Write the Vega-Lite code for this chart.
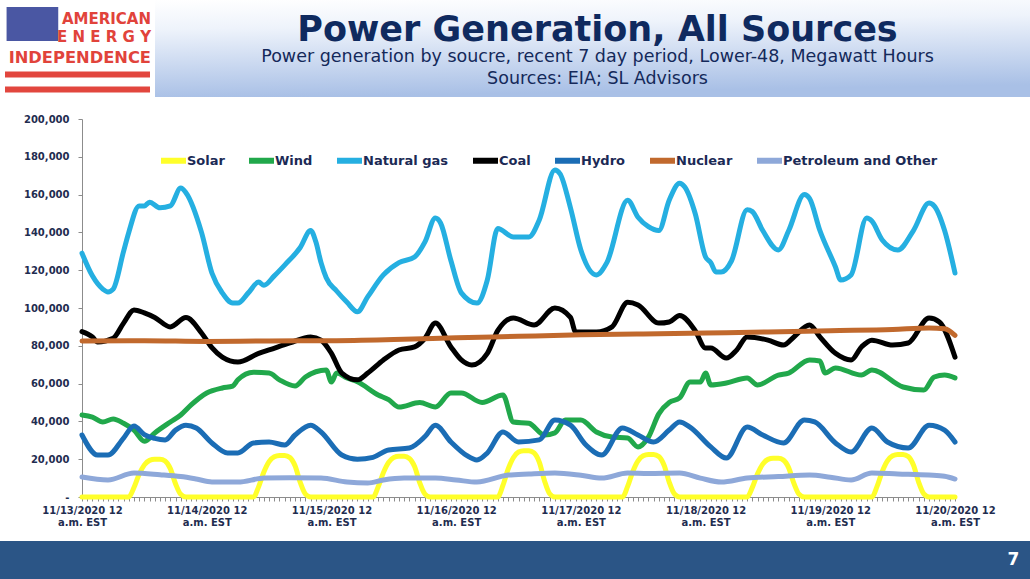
{
  "$schema": "https://vega.github.io/schema/vega-lite/v6.json",
  "background": "white",
  "padding": 0,
  "spacing": 0,
  "config": {
    "font": "DejaVu Sans",
    "view": {"stroke": null},
    "concat": {"spacing": 0}
  },
  "datasets": {
    "generation": [
      {"time": "2020-11-13T00:00", "source": "Solar", "mwh": 0},
      {"time": "2020-11-13T09:00", "source": "Solar", "mwh": 0},
      {"time": "2020-11-13T10:00", "source": "Solar", "mwh": 5000},
      {"time": "2020-11-13T11:00", "source": "Solar", "mwh": 12000},
      {"time": "2020-11-13T12:00", "source": "Solar", "mwh": 17000},
      {"time": "2020-11-13T13:00", "source": "Solar", "mwh": 19400},
      {"time": "2020-11-13T14:00", "source": "Solar", "mwh": 20000},
      {"time": "2020-11-13T15:00", "source": "Solar", "mwh": 20000},
      {"time": "2020-11-13T16:00", "source": "Solar", "mwh": 19000},
      {"time": "2020-11-13T17:00", "source": "Solar", "mwh": 15000},
      {"time": "2020-11-13T18:00", "source": "Solar", "mwh": 7000},
      {"time": "2020-11-13T19:00", "source": "Solar", "mwh": 1400},
      {"time": "2020-11-13T20:00", "source": "Solar", "mwh": 0},
      {"time": "2020-11-14T09:00", "source": "Solar", "mwh": 0},
      {"time": "2020-11-14T10:00", "source": "Solar", "mwh": 5500},
      {"time": "2020-11-14T11:00", "source": "Solar", "mwh": 13200},
      {"time": "2020-11-14T12:00", "source": "Solar", "mwh": 18700},
      {"time": "2020-11-14T13:00", "source": "Solar", "mwh": 21300},
      {"time": "2020-11-14T14:00", "source": "Solar", "mwh": 22000},
      {"time": "2020-11-14T15:00", "source": "Solar", "mwh": 22000},
      {"time": "2020-11-14T16:00", "source": "Solar", "mwh": 20900},
      {"time": "2020-11-14T17:00", "source": "Solar", "mwh": 16500},
      {"time": "2020-11-14T18:00", "source": "Solar", "mwh": 7700},
      {"time": "2020-11-14T19:00", "source": "Solar", "mwh": 1500},
      {"time": "2020-11-14T20:00", "source": "Solar", "mwh": 0},
      {"time": "2020-11-15T08:00", "source": "Solar", "mwh": 0},
      {"time": "2020-11-15T09:00", "source": "Solar", "mwh": 5400},
      {"time": "2020-11-15T10:00", "source": "Solar", "mwh": 12900},
      {"time": "2020-11-15T11:00", "source": "Solar", "mwh": 18300},
      {"time": "2020-11-15T12:00", "source": "Solar", "mwh": 20900},
      {"time": "2020-11-15T13:00", "source": "Solar", "mwh": 21500},
      {"time": "2020-11-15T14:00", "source": "Solar", "mwh": 21500},
      {"time": "2020-11-15T15:00", "source": "Solar", "mwh": 20400},
      {"time": "2020-11-15T16:00", "source": "Solar", "mwh": 16100},
      {"time": "2020-11-15T17:00", "source": "Solar", "mwh": 7500},
      {"time": "2020-11-15T18:00", "source": "Solar", "mwh": 1500},
      {"time": "2020-11-15T19:00", "source": "Solar", "mwh": 0},
      {"time": "2020-11-16T08:00", "source": "Solar", "mwh": 0},
      {"time": "2020-11-16T09:00", "source": "Solar", "mwh": 6100},
      {"time": "2020-11-16T10:00", "source": "Solar", "mwh": 14700},
      {"time": "2020-11-16T11:00", "source": "Solar", "mwh": 20800},
      {"time": "2020-11-16T12:00", "source": "Solar", "mwh": 23800},
      {"time": "2020-11-16T13:00", "source": "Solar", "mwh": 24500},
      {"time": "2020-11-16T14:00", "source": "Solar", "mwh": 24500},
      {"time": "2020-11-16T15:00", "source": "Solar", "mwh": 23300},
      {"time": "2020-11-16T16:00", "source": "Solar", "mwh": 18400},
      {"time": "2020-11-16T17:00", "source": "Solar", "mwh": 8600},
      {"time": "2020-11-16T18:00", "source": "Solar", "mwh": 1700},
      {"time": "2020-11-16T19:00", "source": "Solar", "mwh": 0},
      {"time": "2020-11-17T08:00", "source": "Solar", "mwh": 0},
      {"time": "2020-11-17T09:00", "source": "Solar", "mwh": 5600},
      {"time": "2020-11-17T10:00", "source": "Solar", "mwh": 13500},
      {"time": "2020-11-17T11:00", "source": "Solar", "mwh": 19100},
      {"time": "2020-11-17T12:00", "source": "Solar", "mwh": 21800},
      {"time": "2020-11-17T13:00", "source": "Solar", "mwh": 22500},
      {"time": "2020-11-17T14:00", "source": "Solar", "mwh": 22500},
      {"time": "2020-11-17T15:00", "source": "Solar", "mwh": 21400},
      {"time": "2020-11-17T16:00", "source": "Solar", "mwh": 16900},
      {"time": "2020-11-17T17:00", "source": "Solar", "mwh": 7900},
      {"time": "2020-11-17T18:00", "source": "Solar", "mwh": 1600},
      {"time": "2020-11-17T19:00", "source": "Solar", "mwh": 0},
      {"time": "2020-11-18T08:00", "source": "Solar", "mwh": 0},
      {"time": "2020-11-18T09:00", "source": "Solar", "mwh": 5100},
      {"time": "2020-11-18T10:00", "source": "Solar", "mwh": 12300},
      {"time": "2020-11-18T11:00", "source": "Solar", "mwh": 17400},
      {"time": "2020-11-18T12:00", "source": "Solar", "mwh": 19900},
      {"time": "2020-11-18T13:00", "source": "Solar", "mwh": 20500},
      {"time": "2020-11-18T14:00", "source": "Solar", "mwh": 20500},
      {"time": "2020-11-18T15:00", "source": "Solar", "mwh": 19500},
      {"time": "2020-11-18T16:00", "source": "Solar", "mwh": 15400},
      {"time": "2020-11-18T17:00", "source": "Solar", "mwh": 7200},
      {"time": "2020-11-18T18:00", "source": "Solar", "mwh": 1400},
      {"time": "2020-11-18T19:00", "source": "Solar", "mwh": 0},
      {"time": "2020-11-19T08:00", "source": "Solar", "mwh": 0},
      {"time": "2020-11-19T09:00", "source": "Solar", "mwh": 5600},
      {"time": "2020-11-19T10:00", "source": "Solar", "mwh": 13500},
      {"time": "2020-11-19T11:00", "source": "Solar", "mwh": 19100},
      {"time": "2020-11-19T12:00", "source": "Solar", "mwh": 21800},
      {"time": "2020-11-19T13:00", "source": "Solar", "mwh": 22500},
      {"time": "2020-11-19T14:00", "source": "Solar", "mwh": 22500},
      {"time": "2020-11-19T15:00", "source": "Solar", "mwh": 21400},
      {"time": "2020-11-19T16:00", "source": "Solar", "mwh": 16900},
      {"time": "2020-11-19T17:00", "source": "Solar", "mwh": 7900},
      {"time": "2020-11-19T18:00", "source": "Solar", "mwh": 1600},
      {"time": "2020-11-19T19:00", "source": "Solar", "mwh": 0},
      {"time": "2020-11-20T00:00", "source": "Solar", "mwh": 0},
      {"time": "2020-11-13T00:00", "source": "Wind", "mwh": 43400},
      {"time": "2020-11-13T02:00", "source": "Wind", "mwh": 42300},
      {"time": "2020-11-13T04:00", "source": "Wind", "mwh": 39700},
      {"time": "2020-11-13T06:00", "source": "Wind", "mwh": 41300},
      {"time": "2020-11-13T08:00", "source": "Wind", "mwh": 39000},
      {"time": "2020-11-13T10:00", "source": "Wind", "mwh": 35400},
      {"time": "2020-11-13T12:00", "source": "Wind", "mwh": 29500},
      {"time": "2020-11-13T14:00", "source": "Wind", "mwh": 33900},
      {"time": "2020-11-13T17:00", "source": "Wind", "mwh": 39700},
      {"time": "2020-11-13T19:00", "source": "Wind", "mwh": 43400},
      {"time": "2020-11-13T21:00", "source": "Wind", "mwh": 48700},
      {"time": "2020-11-14T00:00", "source": "Wind", "mwh": 55000},
      {"time": "2020-11-14T03:00", "source": "Wind", "mwh": 57700},
      {"time": "2020-11-14T05:00", "source": "Wind", "mwh": 58700},
      {"time": "2020-11-14T06:00", "source": "Wind", "mwh": 62000},
      {"time": "2020-11-14T09:00", "source": "Wind", "mwh": 66000},
      {"time": "2020-11-14T12:00", "source": "Wind", "mwh": 65600},
      {"time": "2020-11-14T14:00", "source": "Wind", "mwh": 62000},
      {"time": "2020-11-14T17:00", "source": "Wind", "mwh": 58700},
      {"time": "2020-11-14T19:00", "source": "Wind", "mwh": 63500},
      {"time": "2020-11-14T23:00", "source": "Wind", "mwh": 67200},
      {"time": "2020-11-15T00:00", "source": "Wind", "mwh": 60800},
      {"time": "2020-11-15T01:00", "source": "Wind", "mwh": 65600},
      {"time": "2020-11-15T03:00", "source": "Wind", "mwh": 63000},
      {"time": "2020-11-15T05:00", "source": "Wind", "mwh": 61000},
      {"time": "2020-11-15T09:00", "source": "Wind", "mwh": 54000},
      {"time": "2020-11-15T11:00", "source": "Wind", "mwh": 51500},
      {"time": "2020-11-15T13:00", "source": "Wind", "mwh": 47600},
      {"time": "2020-11-15T17:00", "source": "Wind", "mwh": 50000},
      {"time": "2020-11-15T20:00", "source": "Wind", "mwh": 47600},
      {"time": "2020-11-15T23:00", "source": "Wind", "mwh": 55000},
      {"time": "2020-11-16T01:00", "source": "Wind", "mwh": 55000},
      {"time": "2020-11-16T05:00", "source": "Wind", "mwh": 50000},
      {"time": "2020-11-16T09:00", "source": "Wind", "mwh": 54000},
      {"time": "2020-11-16T11:00", "source": "Wind", "mwh": 39700},
      {"time": "2020-11-16T14:00", "source": "Wind", "mwh": 39000},
      {"time": "2020-11-16T17:00", "source": "Wind", "mwh": 32800},
      {"time": "2020-11-16T19:00", "source": "Wind", "mwh": 33900},
      {"time": "2020-11-16T21:00", "source": "Wind", "mwh": 40700},
      {"time": "2020-11-17T00:00", "source": "Wind", "mwh": 40700},
      {"time": "2020-11-17T03:00", "source": "Wind", "mwh": 34400},
      {"time": "2020-11-17T06:00", "source": "Wind", "mwh": 31700},
      {"time": "2020-11-17T09:00", "source": "Wind", "mwh": 31200},
      {"time": "2020-11-17T11:00", "source": "Wind", "mwh": 26500},
      {"time": "2020-11-17T13:00", "source": "Wind", "mwh": 31700},
      {"time": "2020-11-17T15:00", "source": "Wind", "mwh": 44000},
      {"time": "2020-11-17T17:00", "source": "Wind", "mwh": 50000},
      {"time": "2020-11-17T19:00", "source": "Wind", "mwh": 52400},
      {"time": "2020-11-17T21:00", "source": "Wind", "mwh": 60800},
      {"time": "2020-11-17T23:00", "source": "Wind", "mwh": 60800},
      {"time": "2020-11-18T00:00", "source": "Wind", "mwh": 65600},
      {"time": "2020-11-18T01:00", "source": "Wind", "mwh": 59300},
      {"time": "2020-11-18T04:00", "source": "Wind", "mwh": 60300},
      {"time": "2020-11-18T08:00", "source": "Wind", "mwh": 63000},
      {"time": "2020-11-18T10:00", "source": "Wind", "mwh": 59300},
      {"time": "2020-11-18T14:00", "source": "Wind", "mwh": 64500},
      {"time": "2020-11-18T16:00", "source": "Wind", "mwh": 65600},
      {"time": "2020-11-18T20:00", "source": "Wind", "mwh": 72500},
      {"time": "2020-11-18T22:00", "source": "Wind", "mwh": 72000},
      {"time": "2020-11-18T23:00", "source": "Wind", "mwh": 65600},
      {"time": "2020-11-19T01:00", "source": "Wind", "mwh": 68300},
      {"time": "2020-11-19T06:00", "source": "Wind", "mwh": 64500},
      {"time": "2020-11-19T08:00", "source": "Wind", "mwh": 67200},
      {"time": "2020-11-19T14:00", "source": "Wind", "mwh": 58200},
      {"time": "2020-11-19T18:00", "source": "Wind", "mwh": 56600},
      {"time": "2020-11-19T20:00", "source": "Wind", "mwh": 63500},
      {"time": "2020-11-19T22:00", "source": "Wind", "mwh": 64500},
      {"time": "2020-11-20T00:00", "source": "Wind", "mwh": 63000},
      {"time": "2020-11-13T00:00", "source": "Natural gas", "mwh": 129000},
      {"time": "2020-11-13T02:00", "source": "Natural gas", "mwh": 117000},
      {"time": "2020-11-13T04:00", "source": "Natural gas", "mwh": 110000},
      {"time": "2020-11-13T05:00", "source": "Natural gas", "mwh": 108500},
      {"time": "2020-11-13T06:00", "source": "Natural gas", "mwh": 110000},
      {"time": "2020-11-13T08:00", "source": "Natural gas", "mwh": 130000},
      {"time": "2020-11-13T09:00", "source": "Natural gas", "mwh": 140000},
      {"time": "2020-11-13T11:00", "source": "Natural gas", "mwh": 154000},
      {"time": "2020-11-13T12:00", "source": "Natural gas", "mwh": 154000},
      {"time": "2020-11-13T13:00", "source": "Natural gas", "mwh": 156000},
      {"time": "2020-11-13T15:00", "source": "Natural gas", "mwh": 153000},
      {"time": "2020-11-13T17:00", "source": "Natural gas", "mwh": 154000},
      {"time": "2020-11-13T19:00", "source": "Natural gas", "mwh": 163500},
      {"time": "2020-11-13T20:00", "source": "Natural gas", "mwh": 161000},
      {"time": "2020-11-13T23:00", "source": "Natural gas", "mwh": 140000},
      {"time": "2020-11-14T01:00", "source": "Natural gas", "mwh": 118500},
      {"time": "2020-11-14T03:00", "source": "Natural gas", "mwh": 108000},
      {"time": "2020-11-14T05:00", "source": "Natural gas", "mwh": 102600},
      {"time": "2020-11-14T06:00", "source": "Natural gas", "mwh": 102600},
      {"time": "2020-11-14T08:00", "source": "Natural gas", "mwh": 108000},
      {"time": "2020-11-14T10:00", "source": "Natural gas", "mwh": 113700},
      {"time": "2020-11-14T11:00", "source": "Natural gas", "mwh": 112000},
      {"time": "2020-11-14T13:00", "source": "Natural gas", "mwh": 117000},
      {"time": "2020-11-14T15:00", "source": "Natural gas", "mwh": 122700},
      {"time": "2020-11-14T18:00", "source": "Natural gas", "mwh": 132000},
      {"time": "2020-11-14T20:00", "source": "Natural gas", "mwh": 141000},
      {"time": "2020-11-14T21:00", "source": "Natural gas", "mwh": 135000},
      {"time": "2020-11-14T22:00", "source": "Natural gas", "mwh": 124000},
      {"time": "2020-11-14T23:00", "source": "Natural gas", "mwh": 116000},
      {"time": "2020-11-15T01:00", "source": "Natural gas", "mwh": 109000},
      {"time": "2020-11-15T03:00", "source": "Natural gas", "mwh": 103000},
      {"time": "2020-11-15T05:00", "source": "Natural gas", "mwh": 98000},
      {"time": "2020-11-15T07:00", "source": "Natural gas", "mwh": 106000},
      {"time": "2020-11-15T10:00", "source": "Natural gas", "mwh": 117500},
      {"time": "2020-11-15T13:00", "source": "Natural gas", "mwh": 124000},
      {"time": "2020-11-15T16:00", "source": "Natural gas", "mwh": 127000},
      {"time": "2020-11-15T18:00", "source": "Natural gas", "mwh": 135000},
      {"time": "2020-11-15T20:00", "source": "Natural gas", "mwh": 147600},
      {"time": "2020-11-15T21:00", "source": "Natural gas", "mwh": 145000},
      {"time": "2020-11-15T23:00", "source": "Natural gas", "mwh": 125000},
      {"time": "2020-11-16T01:00", "source": "Natural gas", "mwh": 108000},
      {"time": "2020-11-16T04:00", "source": "Natural gas", "mwh": 102600},
      {"time": "2020-11-16T06:00", "source": "Natural gas", "mwh": 114800},
      {"time": "2020-11-16T08:00", "source": "Natural gas", "mwh": 142000},
      {"time": "2020-11-16T11:00", "source": "Natural gas", "mwh": 137600},
      {"time": "2020-11-16T14:00", "source": "Natural gas", "mwh": 137600},
      {"time": "2020-11-16T16:00", "source": "Natural gas", "mwh": 146600},
      {"time": "2020-11-16T19:00", "source": "Natural gas", "mwh": 173000},
      {"time": "2020-11-16T20:00", "source": "Natural gas", "mwh": 171000},
      {"time": "2020-11-16T22:00", "source": "Natural gas", "mwh": 153000},
      {"time": "2020-11-17T00:00", "source": "Natural gas", "mwh": 130700},
      {"time": "2020-11-17T03:00", "source": "Natural gas", "mwh": 117500},
      {"time": "2020-11-17T05:00", "source": "Natural gas", "mwh": 124000},
      {"time": "2020-11-17T09:00", "source": "Natural gas", "mwh": 157000},
      {"time": "2020-11-17T11:00", "source": "Natural gas", "mwh": 148000},
      {"time": "2020-11-17T13:00", "source": "Natural gas", "mwh": 143000},
      {"time": "2020-11-17T15:00", "source": "Natural gas", "mwh": 141000},
      {"time": "2020-11-17T17:00", "source": "Natural gas", "mwh": 157000},
      {"time": "2020-11-17T19:00", "source": "Natural gas", "mwh": 166000},
      {"time": "2020-11-17T20:00", "source": "Natural gas", "mwh": 164000},
      {"time": "2020-11-17T22:00", "source": "Natural gas", "mwh": 150000},
      {"time": "2020-11-18T00:00", "source": "Natural gas", "mwh": 127000},
      {"time": "2020-11-18T01:00", "source": "Natural gas", "mwh": 124000},
      {"time": "2020-11-18T02:00", "source": "Natural gas", "mwh": 119000},
      {"time": "2020-11-18T03:00", "source": "Natural gas", "mwh": 119000},
      {"time": "2020-11-18T05:00", "source": "Natural gas", "mwh": 125000},
      {"time": "2020-11-18T08:00", "source": "Natural gas", "mwh": 152000},
      {"time": "2020-11-18T09:00", "source": "Natural gas", "mwh": 151000},
      {"time": "2020-11-18T11:00", "source": "Natural gas", "mwh": 141000},
      {"time": "2020-11-18T14:00", "source": "Natural gas", "mwh": 130700},
      {"time": "2020-11-18T16:00", "source": "Natural gas", "mwh": 141000},
      {"time": "2020-11-18T19:00", "source": "Natural gas", "mwh": 160000},
      {"time": "2020-11-18T20:00", "source": "Natural gas", "mwh": 158000},
      {"time": "2020-11-18T22:00", "source": "Natural gas", "mwh": 141000},
      {"time": "2020-11-19T01:00", "source": "Natural gas", "mwh": 121700},
      {"time": "2020-11-19T02:00", "source": "Natural gas", "mwh": 114800},
      {"time": "2020-11-19T04:00", "source": "Natural gas", "mwh": 117500},
      {"time": "2020-11-19T07:00", "source": "Natural gas", "mwh": 147600},
      {"time": "2020-11-19T08:00", "source": "Natural gas", "mwh": 146000},
      {"time": "2020-11-19T10:00", "source": "Natural gas", "mwh": 136000},
      {"time": "2020-11-19T13:00", "source": "Natural gas", "mwh": 130700},
      {"time": "2020-11-19T16:00", "source": "Natural gas", "mwh": 141000},
      {"time": "2020-11-19T19:00", "source": "Natural gas", "mwh": 155500},
      {"time": "2020-11-19T20:00", "source": "Natural gas", "mwh": 154000},
      {"time": "2020-11-19T22:00", "source": "Natural gas", "mwh": 141000},
      {"time": "2020-11-20T00:00", "source": "Natural gas", "mwh": 118500},
      {"time": "2020-11-13T00:00", "source": "Coal", "mwh": 87500},
      {"time": "2020-11-13T02:00", "source": "Coal", "mwh": 84700},
      {"time": "2020-11-13T03:00", "source": "Coal", "mwh": 82000},
      {"time": "2020-11-13T06:00", "source": "Coal", "mwh": 84000},
      {"time": "2020-11-13T08:00", "source": "Coal", "mwh": 92000},
      {"time": "2020-11-13T10:00", "source": "Coal", "mwh": 99000},
      {"time": "2020-11-13T12:00", "source": "Coal", "mwh": 97400},
      {"time": "2020-11-13T14:00", "source": "Coal", "mwh": 95000},
      {"time": "2020-11-13T17:00", "source": "Coal", "mwh": 90000},
      {"time": "2020-11-13T20:00", "source": "Coal", "mwh": 95000},
      {"time": "2020-11-13T23:00", "source": "Coal", "mwh": 86800},
      {"time": "2020-11-14T01:00", "source": "Coal", "mwh": 79000},
      {"time": "2020-11-14T03:00", "source": "Coal", "mwh": 74000},
      {"time": "2020-11-14T06:00", "source": "Coal", "mwh": 71400},
      {"time": "2020-11-14T10:00", "source": "Coal", "mwh": 76000},
      {"time": "2020-11-14T12:00", "source": "Coal", "mwh": 77800},
      {"time": "2020-11-14T16:00", "source": "Coal", "mwh": 81500},
      {"time": "2020-11-14T20:00", "source": "Coal", "mwh": 84700},
      {"time": "2020-11-14T22:00", "source": "Coal", "mwh": 83000},
      {"time": "2020-11-15T00:00", "source": "Coal", "mwh": 76000},
      {"time": "2020-11-15T02:00", "source": "Coal", "mwh": 65600},
      {"time": "2020-11-15T05:00", "source": "Coal", "mwh": 62000},
      {"time": "2020-11-15T07:00", "source": "Coal", "mwh": 65600},
      {"time": "2020-11-15T10:00", "source": "Coal", "mwh": 72500},
      {"time": "2020-11-15T13:00", "source": "Coal", "mwh": 77800},
      {"time": "2020-11-15T16:00", "source": "Coal", "mwh": 79400},
      {"time": "2020-11-15T18:00", "source": "Coal", "mwh": 84000},
      {"time": "2020-11-15T20:00", "source": "Coal", "mwh": 92000},
      {"time": "2020-11-15T23:00", "source": "Coal", "mwh": 79400},
      {"time": "2020-11-16T01:00", "source": "Coal", "mwh": 72500},
      {"time": "2020-11-16T03:00", "source": "Coal", "mwh": 69800},
      {"time": "2020-11-16T06:00", "source": "Coal", "mwh": 76000},
      {"time": "2020-11-16T08:00", "source": "Coal", "mwh": 88000},
      {"time": "2020-11-16T11:00", "source": "Coal", "mwh": 94700},
      {"time": "2020-11-16T15:00", "source": "Coal", "mwh": 91000},
      {"time": "2020-11-16T19:00", "source": "Coal", "mwh": 100000},
      {"time": "2020-11-16T22:00", "source": "Coal", "mwh": 95000},
      {"time": "2020-11-16T23:00", "source": "Coal", "mwh": 87300},
      {"time": "2020-11-17T03:00", "source": "Coal", "mwh": 87300},
      {"time": "2020-11-17T06:00", "source": "Coal", "mwh": 90000},
      {"time": "2020-11-17T09:00", "source": "Coal", "mwh": 103000},
      {"time": "2020-11-17T11:00", "source": "Coal", "mwh": 101600},
      {"time": "2020-11-17T15:00", "source": "Coal", "mwh": 92000},
      {"time": "2020-11-17T17:00", "source": "Coal", "mwh": 92600},
      {"time": "2020-11-17T19:00", "source": "Coal", "mwh": 96000},
      {"time": "2020-11-17T22:00", "source": "Coal", "mwh": 88000},
      {"time": "2020-11-18T00:00", "source": "Coal", "mwh": 78800},
      {"time": "2020-11-18T01:00", "source": "Coal", "mwh": 78800},
      {"time": "2020-11-18T04:00", "source": "Coal", "mwh": 73500},
      {"time": "2020-11-18T06:00", "source": "Coal", "mwh": 77800},
      {"time": "2020-11-18T08:00", "source": "Coal", "mwh": 84700},
      {"time": "2020-11-18T12:00", "source": "Coal", "mwh": 83000},
      {"time": "2020-11-18T15:00", "source": "Coal", "mwh": 80400},
      {"time": "2020-11-18T17:00", "source": "Coal", "mwh": 84700},
      {"time": "2020-11-18T20:00", "source": "Coal", "mwh": 91000},
      {"time": "2020-11-18T22:00", "source": "Coal", "mwh": 84700},
      {"time": "2020-11-19T01:00", "source": "Coal", "mwh": 76000},
      {"time": "2020-11-19T04:00", "source": "Coal", "mwh": 72500},
      {"time": "2020-11-19T06:00", "source": "Coal", "mwh": 79400},
      {"time": "2020-11-19T08:00", "source": "Coal", "mwh": 83000},
      {"time": "2020-11-19T12:00", "source": "Coal", "mwh": 80400},
      {"time": "2020-11-19T15:00", "source": "Coal", "mwh": 81500},
      {"time": "2020-11-19T19:00", "source": "Coal", "mwh": 94700},
      {"time": "2020-11-19T21:00", "source": "Coal", "mwh": 92600},
      {"time": "2020-11-20T00:00", "source": "Coal", "mwh": 74000},
      {"time": "2020-11-13T00:00", "source": "Hydro", "mwh": 32800},
      {"time": "2020-11-13T03:00", "source": "Hydro", "mwh": 22200},
      {"time": "2020-11-13T05:00", "source": "Hydro", "mwh": 22200},
      {"time": "2020-11-13T08:00", "source": "Hydro", "mwh": 31200},
      {"time": "2020-11-13T10:00", "source": "Hydro", "mwh": 37600},
      {"time": "2020-11-13T12:00", "source": "Hydro", "mwh": 33000},
      {"time": "2020-11-13T14:00", "source": "Hydro", "mwh": 31000},
      {"time": "2020-11-13T16:00", "source": "Hydro", "mwh": 30200},
      {"time": "2020-11-13T18:00", "source": "Hydro", "mwh": 35400},
      {"time": "2020-11-13T20:00", "source": "Hydro", "mwh": 38000},
      {"time": "2020-11-13T22:00", "source": "Hydro", "mwh": 36500},
      {"time": "2020-11-14T01:00", "source": "Hydro", "mwh": 28600},
      {"time": "2020-11-14T04:00", "source": "Hydro", "mwh": 23300},
      {"time": "2020-11-14T06:00", "source": "Hydro", "mwh": 23300},
      {"time": "2020-11-14T09:00", "source": "Hydro", "mwh": 28600},
      {"time": "2020-11-14T12:00", "source": "Hydro", "mwh": 29100},
      {"time": "2020-11-14T15:00", "source": "Hydro", "mwh": 27500},
      {"time": "2020-11-14T17:00", "source": "Hydro", "mwh": 32800},
      {"time": "2020-11-14T20:00", "source": "Hydro", "mwh": 38000},
      {"time": "2020-11-14T22:00", "source": "Hydro", "mwh": 34400},
      {"time": "2020-11-15T02:00", "source": "Hydro", "mwh": 22200},
      {"time": "2020-11-15T05:00", "source": "Hydro", "mwh": 20000},
      {"time": "2020-11-15T08:00", "source": "Hydro", "mwh": 21000},
      {"time": "2020-11-15T11:00", "source": "Hydro", "mwh": 24900},
      {"time": "2020-11-15T15:00", "source": "Hydro", "mwh": 25900},
      {"time": "2020-11-15T18:00", "source": "Hydro", "mwh": 32000},
      {"time": "2020-11-15T20:00", "source": "Hydro", "mwh": 38000},
      {"time": "2020-11-15T23:00", "source": "Hydro", "mwh": 29100},
      {"time": "2020-11-16T02:00", "source": "Hydro", "mwh": 22000},
      {"time": "2020-11-16T04:00", "source": "Hydro", "mwh": 19600},
      {"time": "2020-11-16T06:00", "source": "Hydro", "mwh": 23300},
      {"time": "2020-11-16T09:00", "source": "Hydro", "mwh": 34400},
      {"time": "2020-11-16T12:00", "source": "Hydro", "mwh": 29100},
      {"time": "2020-11-16T16:00", "source": "Hydro", "mwh": 30200},
      {"time": "2020-11-16T19:00", "source": "Hydro", "mwh": 40700},
      {"time": "2020-11-16T22:00", "source": "Hydro", "mwh": 38000},
      {"time": "2020-11-17T01:00", "source": "Hydro", "mwh": 27500},
      {"time": "2020-11-17T04:00", "source": "Hydro", "mwh": 22200},
      {"time": "2020-11-17T08:00", "source": "Hydro", "mwh": 36500},
      {"time": "2020-11-17T11:00", "source": "Hydro", "mwh": 32800},
      {"time": "2020-11-17T14:00", "source": "Hydro", "mwh": 29100},
      {"time": "2020-11-17T17:00", "source": "Hydro", "mwh": 35400},
      {"time": "2020-11-17T19:00", "source": "Hydro", "mwh": 39700},
      {"time": "2020-11-17T21:00", "source": "Hydro", "mwh": 37000},
      {"time": "2020-11-18T01:00", "source": "Hydro", "mwh": 26500},
      {"time": "2020-11-18T04:00", "source": "Hydro", "mwh": 20600},
      {"time": "2020-11-18T08:00", "source": "Hydro", "mwh": 37000},
      {"time": "2020-11-18T11:00", "source": "Hydro", "mwh": 32800},
      {"time": "2020-11-18T15:00", "source": "Hydro", "mwh": 28600},
      {"time": "2020-11-18T19:00", "source": "Hydro", "mwh": 40700},
      {"time": "2020-11-18T21:00", "source": "Hydro", "mwh": 39700},
      {"time": "2020-11-19T01:00", "source": "Hydro", "mwh": 28600},
      {"time": "2020-11-19T04:00", "source": "Hydro", "mwh": 23800},
      {"time": "2020-11-19T08:00", "source": "Hydro", "mwh": 36500},
      {"time": "2020-11-19T11:00", "source": "Hydro", "mwh": 29100},
      {"time": "2020-11-19T15:00", "source": "Hydro", "mwh": 25900},
      {"time": "2020-11-19T19:00", "source": "Hydro", "mwh": 38000},
      {"time": "2020-11-19T22:00", "source": "Hydro", "mwh": 35400},
      {"time": "2020-11-20T00:00", "source": "Hydro", "mwh": 29100},
      {"time": "2020-11-13T00:00", "source": "Nuclear", "mwh": 82500},
      {"time": "2020-11-13T12:00", "source": "Nuclear", "mwh": 82700},
      {"time": "2020-11-14T00:00", "source": "Nuclear", "mwh": 82300},
      {"time": "2020-11-14T12:00", "source": "Nuclear", "mwh": 82600},
      {"time": "2020-11-15T00:00", "source": "Nuclear", "mwh": 82700},
      {"time": "2020-11-15T12:00", "source": "Nuclear", "mwh": 83300},
      {"time": "2020-11-16T00:00", "source": "Nuclear", "mwh": 84200},
      {"time": "2020-11-16T12:00", "source": "Nuclear", "mwh": 85000},
      {"time": "2020-11-17T00:00", "source": "Nuclear", "mwh": 85800},
      {"time": "2020-11-17T12:00", "source": "Nuclear", "mwh": 86300},
      {"time": "2020-11-18T00:00", "source": "Nuclear", "mwh": 86800},
      {"time": "2020-11-18T12:00", "source": "Nuclear", "mwh": 87300},
      {"time": "2020-11-19T00:00", "source": "Nuclear", "mwh": 88000},
      {"time": "2020-11-19T12:00", "source": "Nuclear", "mwh": 88600},
      {"time": "2020-11-19T19:00", "source": "Nuclear", "mwh": 89400},
      {"time": "2020-11-19T22:00", "source": "Nuclear", "mwh": 89000},
      {"time": "2020-11-20T00:00", "source": "Nuclear", "mwh": 85500},
      {"time": "2020-11-13T00:00", "source": "Petroleum and Other", "mwh": 10600},
      {"time": "2020-11-13T05:00", "source": "Petroleum and Other", "mwh": 9000},
      {"time": "2020-11-13T10:00", "source": "Petroleum and Other", "mwh": 12700},
      {"time": "2020-11-13T15:00", "source": "Petroleum and Other", "mwh": 11800},
      {"time": "2020-11-13T19:00", "source": "Petroleum and Other", "mwh": 10800},
      {"time": "2020-11-13T22:00", "source": "Petroleum and Other", "mwh": 9500},
      {"time": "2020-11-14T01:00", "source": "Petroleum and Other", "mwh": 8000},
      {"time": "2020-11-14T06:00", "source": "Petroleum and Other", "mwh": 7900},
      {"time": "2020-11-14T11:00", "source": "Petroleum and Other", "mwh": 10000},
      {"time": "2020-11-14T16:00", "source": "Petroleum and Other", "mwh": 10200},
      {"time": "2020-11-14T22:00", "source": "Petroleum and Other", "mwh": 10000},
      {"time": "2020-11-15T03:00", "source": "Petroleum and Other", "mwh": 7900},
      {"time": "2020-11-15T07:00", "source": "Petroleum and Other", "mwh": 7400},
      {"time": "2020-11-15T10:00", "source": "Petroleum and Other", "mwh": 9000},
      {"time": "2020-11-15T14:00", "source": "Petroleum and Other", "mwh": 10000},
      {"time": "2020-11-15T20:00", "source": "Petroleum and Other", "mwh": 10000},
      {"time": "2020-11-16T00:00", "source": "Petroleum and Other", "mwh": 9000},
      {"time": "2020-11-16T04:00", "source": "Petroleum and Other", "mwh": 7900},
      {"time": "2020-11-16T10:00", "source": "Petroleum and Other", "mwh": 11600},
      {"time": "2020-11-16T14:00", "source": "Petroleum and Other", "mwh": 12200},
      {"time": "2020-11-16T19:00", "source": "Petroleum and Other", "mwh": 12700},
      {"time": "2020-11-17T00:00", "source": "Petroleum and Other", "mwh": 11500},
      {"time": "2020-11-17T04:00", "source": "Petroleum and Other", "mwh": 10000},
      {"time": "2020-11-17T09:00", "source": "Petroleum and Other", "mwh": 12700},
      {"time": "2020-11-17T13:00", "source": "Petroleum and Other", "mwh": 12500},
      {"time": "2020-11-17T19:00", "source": "Petroleum and Other", "mwh": 12700},
      {"time": "2020-11-17T23:00", "source": "Petroleum and Other", "mwh": 10000},
      {"time": "2020-11-18T03:00", "source": "Petroleum and Other", "mwh": 7900},
      {"time": "2020-11-18T08:00", "source": "Petroleum and Other", "mwh": 10000},
      {"time": "2020-11-18T14:00", "source": "Petroleum and Other", "mwh": 10800},
      {"time": "2020-11-18T20:00", "source": "Petroleum and Other", "mwh": 11600},
      {"time": "2020-11-19T00:00", "source": "Petroleum and Other", "mwh": 10500},
      {"time": "2020-11-19T04:00", "source": "Petroleum and Other", "mwh": 9000},
      {"time": "2020-11-19T08:00", "source": "Petroleum and Other", "mwh": 12700},
      {"time": "2020-11-19T13:00", "source": "Petroleum and Other", "mwh": 12200},
      {"time": "2020-11-19T19:00", "source": "Petroleum and Other", "mwh": 11600},
      {"time": "2020-11-19T22:00", "source": "Petroleum and Other", "mwh": 11000},
      {"time": "2020-11-20T00:00", "source": "Petroleum and Other", "mwh": 9500}
    ]
  },
  "vconcat": [
    {
      "spacing": 0,
      "hconcat": [
        {
          "spacing": 0,
          "vconcat": [
            {
              "width": 155,
              "height": 67,
              "title": {
                "text": ["AMERICAN", "E N E R G Y"],
                "subtitle": "INDEPENDENCE",
                "orient": "top",
                "anchor": "end",
                "frame": "group",
                "offset": -66,
                "dx": -4,
                "color": "#e1433b",
                "fontSize": 15,
                "fontWeight": "bold",
                "lineHeight": 18,
                "subtitleColor": "#e1433b",
                "subtitleFontSize": 16.3,
                "subtitleFontWeight": "bold",
                "subtitlePadding": 5
              },
              "data": {"values": [{"logo": "flag"}]},
              "mark": {"type": "rect", "color": "#4a57a3"},
              "encoding": {
                "x": {"field": "logo", "type": "nominal", "axis": null, "scale": {"paddingInner": 0, "paddingOuter": 1.222, "align": 0.0636}},
                "y": {"field": "logo", "type": "nominal", "axis": null, "scale": {"paddingInner": 0, "paddingOuter": 0.485, "align": 0.212}}
              }
            },
            {
              "width": 155,
              "height": 30,
              "data": {"values": [{"stripe": "upper", "logo": "stripe"}, {"stripe": "lower", "logo": "stripe"}]},
              "mark": {"type": "rect", "color": "#e2463e"},
              "encoding": {
                "x": {"field": "logo", "type": "nominal", "axis": null, "scale": {"paddingInner": 0, "paddingOuter": 0.0345, "align": 0.5}},
                "y": {"field": "stripe", "type": "nominal", "sort": ["upper", "lower"], "axis": null, "scale": {"paddingInner": 0.6, "paddingOuter": 0.3}}
              }
            }
          ]
        },
        {
          "width": 875,
          "height": 97,
          "title": {
            "text": "Power Generation, All Sources",
            "subtitle": ["Power generation by soucre, recent 7 day period, Lower-48, Megawatt Hours", "Sources: EIA; SL Advisors"],
            "orient": "top",
            "anchor": "middle",
            "frame": "group",
            "offset": -87,
            "dx": 5,
            "color": "#0f2a5f",
            "fontSize": 35,
            "fontWeight": "bold",
            "subtitleColor": "#14295a",
            "subtitleFontSize": 17.5,
            "subtitleLineHeight": 22,
            "subtitlePadding": 0
          },
          "data": {"values": [{"band": "header"}]},
          "mark": {
            "type": "rect",
            "color": {
              "gradient": "linear",
              "x1": 0, "y1": 0, "x2": 0.15, "y2": 1,
              "stops": [
                {"offset": 0, "color": "#ffffff"},
                {"offset": 0.3, "color": "#eef3fb"},
                {"offset": 1, "color": "#a9c0e6"}
              ]
            }
          },
          "encoding": {
            "x": {"value": 0},
            "x2": {"value": "width"},
            "y": {"value": 0},
            "y2": {"value": "height"}
          }
        }
      ]
    },
    {
      "spacing": 0,
      "hconcat": [
        {
          "width": 1,
          "height": 378,
          "data": {"values": [{"gap": ""}]},
          "mark": {"type": "text"},
          "encoding": {"text": {"field": "gap"}}
        },
        {
          "width": 873,
          "height": 378,
          "title": {"text": " ", "fontSize": 10, "offset": 7},
          "data": {"name": "generation"},
          "mark": {"type": "line", "strokeWidth": 5, "interpolate": "monotone", "strokeJoin": "round", "strokeCap": "round"},
          "encoding": {
            "x": {
              "field": "time",
              "type": "temporal",
              "scale": {"nice": false},
              "axis": {
                "title": null,
                "grid": false,
                "tickCount": 168,
                "labelExpr": "hours(datum.value) == 0 ? [timeFormat(datum.value, '%m/%d/%Y') + ' 12', 'a.m. EST'] : ''",
                "labelOverlap": false,
                "labelFlush": false,
                "labelBound": false,
                "tickSize": 4,
                "tickColor": "#8c8c8c",
                "domainColor": "#8c8c8c",
                "labelFontSize": 10,
                "labelFontWeight": "bold",
                "labelColor": "#1f2d50",
                "labelLineHeight": 12,
                "labelPadding": 4,
                "minExtent": 44
              }
            },
            "y": {
              "field": "mwh",
              "type": "quantitative",
              "scale": {"domain": [0, 200000]},
              "axis": {
                "title": null,
                "grid": false,
                "values": [0, 20000, 40000, 60000, 80000, 100000, 120000, 140000, 160000, 180000, 200000],
                "labelExpr": "datum.value == 0 ? '-' : format(datum.value, ',')",
                "tickSize": 4,
                "tickColor": "#8c8c8c",
                "domainColor": "#8c8c8c",
                "labelFontSize": 10,
                "labelFontWeight": "bold",
                "labelColor": "#1f2d50",
                "labelPadding": 9,
                "minExtent": 81
              }
            },
            "color": {
              "field": "source",
              "type": "nominal",
              "scale": {
                "domain": ["Solar", "Wind", "Natural gas", "Coal", "Hydro", "Nuclear", "Petroleum and Other"],
                "range": ["#ffff2a", "#21a84b", "#25afe1", "#000000", "#1b6db5", "#c1692d", "#8ea8d9"]
              },
              "legend": {
                "title": null,
                "orient": "none",
                "legendX": 158,
                "legendY": 145,
                "direction": "horizontal",
                "symbolType": "stroke",
                "symbolSize": 625,
                "symbolStrokeWidth": 6,
                "labelFontSize": 13,
                "labelFontWeight": "bold",
                "labelColor": "#1b2a55",
                "labelOffset": -2,
                "labelLimit": 300,
                "columnPadding": 12,
                "padding": 0
              }
            }
          }
        }
      ]
    },
    {
      "width": 1030,
      "height": 38,
      "view": {"fill": "#2b5586", "stroke": null},
      "data": {"values": [{"page": "7"}]},
      "mark": {"type": "text", "color": "white", "fontSize": 17, "fontWeight": "bold"},
      "encoding": {
        "text": {"field": "page"},
        "x": {"field": "page", "type": "nominal", "axis": null, "scale": {"align": 0.984}}
      }
    }
  ]
}
